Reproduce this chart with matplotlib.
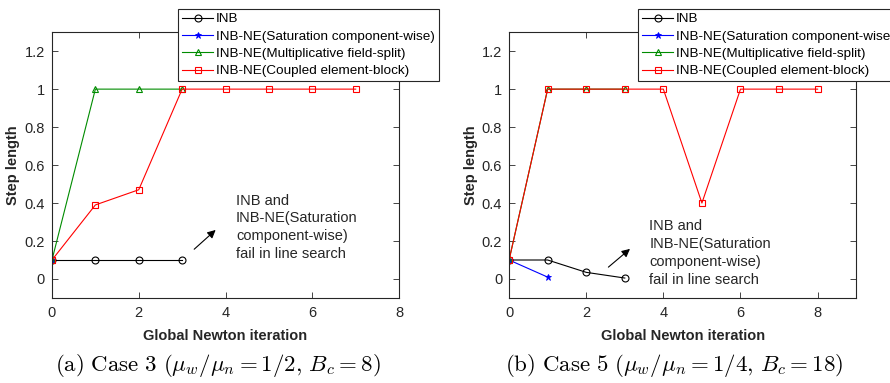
import matplotlib
matplotlib.use("Agg")
from matplotlib import pyplot as plt

plt.rcParams["font.family"] = ["Liberation Sans", "DejaVu Sans"]
plt.rcParams["mathtext.fontset"] = "cm"

labels = ["INB", "INB-NE(Saturation component-wise)",
          "INB-NE(Multiplicative field-split)", "INB-NE(Coupled element-block)"]

# case 3
c3_inb_x = [0, 1, 2, 3]
c3_inb_y = [0.1, 0.1, 0.1, 0.1]
c3_sat_x = [0]
c3_sat_y = [0.1]
c3_mul_x = [0, 1, 2, 3]
c3_mul_y = [0.1, 1, 1, 1]
c3_cpl_x = [0, 1, 2, 3, 4, 5, 6, 7]
c3_cpl_y = [0.1, 0.39, 0.47, 1, 1, 1, 1, 1]

# case 5
c5_inb_x = [0, 1, 2, 3]
c5_inb_y = [0.1, 0.1, 0.035, 0.005]
c5_sat_x = [0, 1]
c5_sat_y = [0.1, 0.01]
c5_mul_x = [0, 1, 2, 3]
c5_mul_y = [0.1, 1, 1, 1]
c5_cpl_x = [0, 1, 2, 3, 4, 5, 6, 7, 8]
c5_cpl_y = [0.1, 1, 1, 1, 1, 0.4, 1, 1, 1]

note = "INB and\nINB-NE(Saturation\ncomponent-wise)\nfail in line search"
green = (0, 0.55, 0)
edge = (0.15, 0.15, 0.15)


def draw(ax, inb, sat, mul, cpl, xmax):
    h1, = ax.plot(*inb, color="k", lw=0.8, marker="o", ms=5, mfc="none", mew=0.8)
    h2, = ax.plot(*sat, color="b", lw=0.8, marker="*", ms=5, mew=0.6)
    h3, = ax.plot(*mul, color=green, lw=0.8, marker="^", ms=5, mfc="none", mew=0.8)
    h4, = ax.plot(*cpl, color="r", lw=0.8, marker="s", ms=4, mfc="none", mew=0.8)
    ax.set_xlim(0, xmax)
    ax.set_ylim(-0.1, 1.3)
    ax.set_xticks([0, 2, 4, 6, 8])
    ax.set_yticks([0, 0.2, 0.4, 0.6, 0.8, 1, 1.2])
    ax.set_yticklabels(["0", "0.2", "0.4", "0.6", "0.8", "1", "1.2"])
    ax.tick_params(direction="in", top=True, right=True, length=4, width=0.6,
                   labelsize=10.5, colors=edge, labelcolor=edge, pad=5)
    ax.tick_params(axis="x", pad=6)
    for s in ax.spines.values():
        s.set_color(edge)
        s.set_linewidth(0.8)
    ax.set_xlabel("Global Newton iteration", fontsize=10.5, fontweight="bold",
                  labelpad=6, color=edge)
    ax.set_ylabel("Step length", fontsize=10.5, fontweight="bold", labelpad=3, color=edge)
    return [h1, h2, h3, h4]


fig = plt.figure(figsize=(8.9, 3.83), dpi=100)
ax1 = fig.add_axes([0.0584, 0.222, 0.390, 0.694])
ax2 = fig.add_axes([0.572, 0.222, 0.390, 0.694])

hs = draw(ax1, (c3_inb_x, c3_inb_y), (c3_sat_x, c3_sat_y),
          (c3_mul_x, c3_mul_y), (c3_cpl_x, c3_cpl_y), 8)
draw(ax2, (c5_inb_x, c5_inb_y), (c5_sat_x, c5_sat_y),
     (c5_mul_x, c5_mul_y), (c5_cpl_x, c5_cpl_y), 9)

# legends sit in figure coords, the right one runs off the edge like the original
leg_kw = dict(fontsize=9.7, frameon=True, fancybox=False, edgecolor=edge,
              framealpha=1, borderaxespad=0, handlelength=2.3, handletextpad=0.2,
              labelspacing=0.36, borderpad=0.3, bbox_transform=fig.transFigure)
l1 = fig.legend(hs, labels, loc="upper right", bbox_to_anchor=(0.493, 0.9765), **leg_kw)
l2 = fig.legend(hs, labels, loc="upper left", bbox_to_anchor=(0.717, 0.9765), **leg_kw)
for l in (l1, l2):
    l.get_frame().set_linewidth(0.8)

ax1.annotate("", xy=(3.82, 0.268), xytext=(3.23, 0.147),
             arrowprops=dict(arrowstyle="-|>", color="k", lw=0.8, mutation_scale=12))
ax1.text(4.24, 0.45, note, fontsize=10.5, va="top", ha="left", linespacing=1.35, color=edge)
ax2.annotate("", xy=(3.19, 0.168), xytext=(2.52, 0.053),
             arrowprops=dict(arrowstyle="-|>", color="k", lw=0.8, mutation_scale=12))
ax2.text(3.64, 0.315, note, fontsize=10.5, va="top", ha="left", linespacing=1.35, color=edge)

fig.text(0.245, 0.045, r"$\mathrm{(a)\ Case\ 3\ (}\mu_w/\mu_n = 1/2,\, B_c = 8\mathrm{)}$",
         ha="center", va="center", fontsize=16.5)
fig.text(0.758, 0.045, r"$\mathrm{(b)\ Case\ 5\ (}\mu_w/\mu_n = 1/4,\, B_c = 18\mathrm{)}$",
         ha="center", va="center", fontsize=16.5)

fig.savefig("out.png", dpi=100)
